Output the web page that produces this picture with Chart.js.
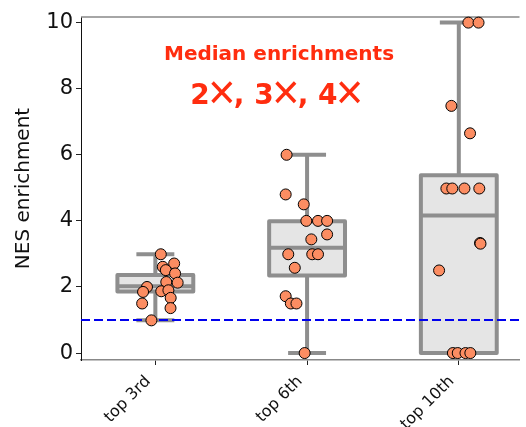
<!DOCTYPE html>
<html>
<head>
<meta charset="utf-8">
<script src="https://cdn.jsdelivr.net/npm/chart.js@4.4.1/dist/chart.umd.min.js"></script>
<style>
html,body{margin:0;padding:0;background:#fff;overflow:hidden;}
#wrap{width:526px;height:427px;position:relative;}
</style>
</head>
<body>
<div id="wrap"><canvas id="c"></canvas></div>
<script>
// ---- data ----
const categories = ['top 3rd', 'top 6th', 'top 10th'];
const yTickValues = [0, 2, 4, 6, 8, 10];
const refLine = 1;

const group1 = [2.99, 2.71, 2.61, 2.51, 2.41, 2.13, 2.15, 2.0, 1.85, 1.87, 1.9, 1.67, 1.5, 1.36, 0.99];
const jitter1 = [0.036, 0.124, 0.049, 0.069, 0.13, 0.147, 0.072, -0.055, -0.081, 0.039, 0.086, 0.101, -0.087, 0.1, -0.026];
const group2 = [6.0, 4.8, 4.5, 4.0, 4.0, 4.0, 3.59, 3.44, 2.99, 2.99, 2.99, 2.58, 1.72, 1.5, 1.5, 0];
const jitter2 = [-0.135, -0.141, -0.022, -0.005, 0.072, 0.132, 0.132, 0.028, -0.124, 0.034, 0.072, -0.081, -0.141, -0.107, -0.07, -0.016];
const group3 = [10, 10, 7.48, 6.65, 4.98, 4.98, 4.98, 4.98, 3.33, 3.31, 2.5, 0, 0, 0, 0];
const jitter3 = [0.063, 0.13, -0.049, 0.074, -0.082, -0.043, 0.037, 0.135, 0.14, 0.143, -0.13, -0.039, -0.007, 0.044, 0.076];

const whiskerLow = [0.99, 0, 0];
const q1 = [1.86, 2.35, 0];
const median = [2.02, 3.19, 4.16];
const q3 = [2.36, 3.99, 5.38];
const whiskerHigh = [2.99, 6.0, 10];

const annotationLine1 = 'Median enrichments';
const annotationMultiples = ['2', '3', '4'];
const timesSign = '\u2715';

// ---- styling constants ----
const BOX_WIDTH = 0.5;
const CAP_WIDTH = 0.25;
const GRAY = '#8e8e8e';
const BOX_FILL = '#e5e5e5';
const TEXT_RED = '#ff2d0f';

const groups = [group1, group2, group3];
const jitters = [jitter1, jitter2, jitter3];
const points = [];
groups.forEach((g, i) => g.forEach((v, j) => points.push({x: i + jitters[i][j], y: v})));

function drawMultiples(ctx, cx, baseY) {
  const digitFont = 'bold 28px "DejaVu Sans"';
  const xFont = '36px "DejaVu Sans"';
  const X_PIECE_W = 24;
  const pieces = [];
  annotationMultiples.forEach((d, i) => {
    pieces.push({t: d, font: digitFont, kind: 'd'});
    pieces.push({t: timesSign, font: xFont, kind: 'x'});
    if (i < annotationMultiples.length - 1) pieces.push({t: ', ', font: digitFont, kind: 'd'});
  });
  let total = 0;
  pieces.forEach(p => {
    ctx.font = p.font;
    p.w = p.kind === 'x' ? X_PIECE_W : ctx.measureText(p.t).width;
    total += p.w;
  });
  let x = cx - total / 2;
  ctx.textBaseline = 'alphabetic';
  pieces.forEach(p => {
    ctx.font = p.font;
    if (p.kind === 'x') {
      ctx.save();
      ctx.translate(x + p.w / 2, baseY - 9.7);
      ctx.scale(1, 1.05);
      ctx.textAlign = 'center';
      ctx.fillText(p.t, 0, 11.2);
      ctx.restore();
    } else {
      ctx.textAlign = 'left';
      ctx.fillText(p.t, x, baseY);
    }
    x += p.w;
  });
}

const boxPlugin = {
  id: 'boxes',
  beforeDatasetsDraw(chart) {
    const {ctx, chartArea, scales: {x, y}} = chart;
    ctx.save();
    ctx.strokeStyle = '#888';
    ctx.lineWidth = 1.5;
    ctx.beginPath();
    ctx.moveTo(chartArea.left, chartArea.top);
    ctx.lineTo(chartArea.right, chartArea.top);
    ctx.stroke();

    ctx.lineWidth = 4;
    ctx.lineJoin = 'round';
    ctx.strokeStyle = GRAY;
    categories.forEach((c, i) => {
      const cx = x.getPixelForValue(i);
      const hb = x.getPixelForValue(i + BOX_WIDTH / 2) - cx;
      const hc = x.getPixelForValue(i + CAP_WIDTH / 2) - cx;
      const yq1 = y.getPixelForValue(q1[i]);
      const yq3 = y.getPixelForValue(q3[i]);
      const ylo = y.getPixelForValue(whiskerLow[i]);
      const yhi = y.getPixelForValue(whiskerHigh[i]);
      const ymed = y.getPixelForValue(median[i]);
      ctx.beginPath();
      ctx.moveTo(cx, yq3); ctx.lineTo(cx, yhi);
      ctx.moveTo(cx - hc, yhi); ctx.lineTo(cx + hc, yhi);
      ctx.moveTo(cx, yq1); ctx.lineTo(cx, ylo);
      ctx.moveTo(cx - hc, ylo); ctx.lineTo(cx + hc, ylo);
      ctx.stroke();
      ctx.fillStyle = BOX_FILL;
      ctx.beginPath();
      ctx.rect(cx - hb, yq3, 2 * hb, yq1 - yq3);
      ctx.fill();
      ctx.stroke();
      ctx.beginPath();
      ctx.moveTo(cx - hb, ymed); ctx.lineTo(cx + hb, ymed);
      ctx.stroke();
    });
    ctx.restore();
  },
  afterDraw(chart) {
    const {ctx, scales: {x, y}} = chart;
    ctx.save();
    ctx.fillStyle = TEXT_RED;
    ctx.textAlign = 'center';
    ctx.textBaseline = 'middle';
    ctx.font = 'bold 20px "DejaVu Sans"';
    ctx.fillText(annotationLine1, x.getPixelForValue(0.815), y.getPixelForValue(9.02));
    drawMultiples(ctx, x.getPixelForValue(0.795), y.getPixelForValue(7.55));
    ctx.restore();
  }
};

new Chart(document.getElementById('c'), {
  type: 'scatter',
  data: {
    datasets: [
      {
        type: 'line',
        data: [{x: -0.49, y: refLine}, {x: 2.40, y: refLine}],
        borderColor: '#0000ee',
        borderWidth: 2,
        borderDash: [9, 4],
        pointRadius: 0,
        fill: false,
        order: 2
      },
      {
        type: 'scatter',
        data: points,
        backgroundColor: '#fc8d62',
        borderColor: '#000',
        borderWidth: 1,
        pointRadius: 5.5,
        pointHoverRadius: 5.5,
        order: 1,
        clip: false
      }
    ]
  },
  options: {
    responsive: true,
    maintainAspectRatio: false,
    animation: false,
    devicePixelRatio: 1,
    layout: {padding: {top: 17, right: 0, bottom: 0, left: 0}},
    plugins: {legend: {display: false}, tooltip: {enabled: false}},
    scales: {
      x: {
        type: 'linear',
        min: -0.49,
        max: 2.40,
        afterBuildTicks: s => { s.ticks = categories.map((c, i) => ({value: i})); },
        afterFit: s => { s.height = 67; },
        ticks: {
          callback: v => (categories[v] !== undefined ? categories[v] + '  ' : ''),
          minRotation: 45,
          maxRotation: 45,
          autoSkip: false,
          color: '#111',
          font: {family: 'DejaVu Sans', size: 16},
          padding: 0
        },
        grid: {drawOnChartArea: false, drawTicks: true, tickLength: 5, color: '#222', tickWidth: 1},
        border: {color: '#888', width: 1.5}
      },
      y: {
        type: 'linear',
        min: -0.21,
        max: 10.17,
        afterBuildTicks: s => { s.ticks = yTickValues.map(v => ({value: v})); },
        afterFit: s => { s.width = 81; },
        ticks: {
          color: '#111',
          font: {family: 'DejaVu Sans', size: 21},
          padding: 3
        },
        grid: {drawOnChartArea: false, drawTicks: true, tickLength: 5, color: '#222', tickWidth: 1},
        border: {color: '#111', width: 1},
        title: {
          display: true,
          text: 'NES enrichment',
          color: '#111',
          font: {family: 'DejaVu Sans', size: 20},
          padding: {top: 12, bottom: 0}
        }
      }
    }
  },
  plugins: [boxPlugin]
});
</script>
</body>
</html>
